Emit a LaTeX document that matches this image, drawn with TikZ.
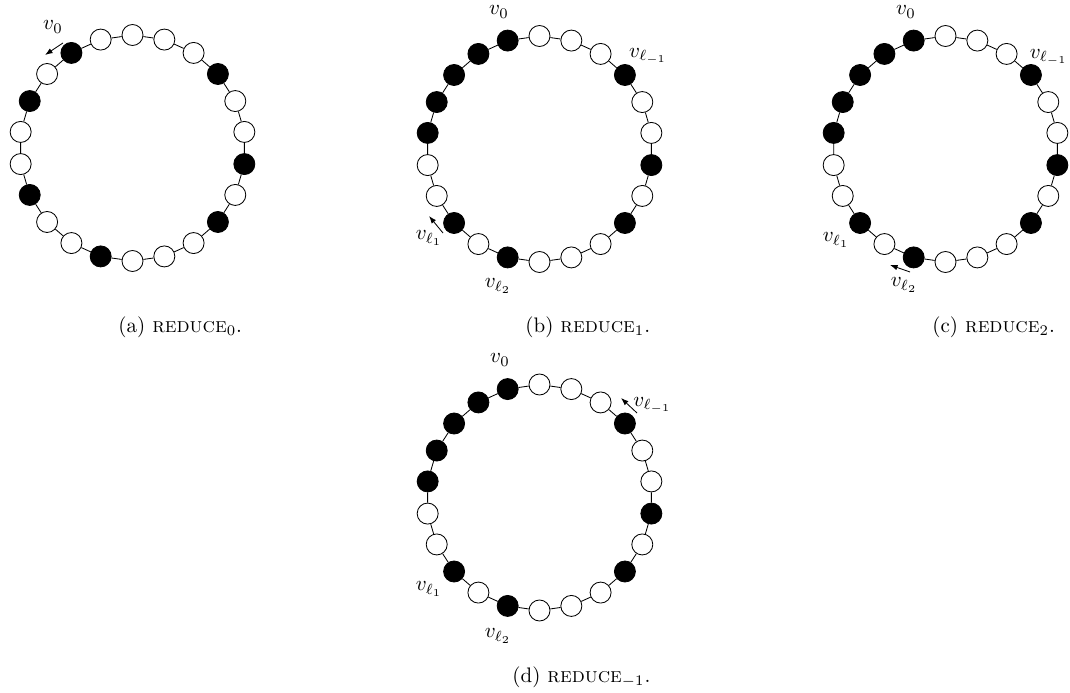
\documentclass[tikz,border=0pt]{standalone}
\usetikzlibrary{arrows.meta,calc}
\tikzset{
  vtx/.style={circle,draw,line width=0.4pt,minimum size=10pt,inner sep=0pt},
  lbl/.style={inner sep=0pt},
  captxt/.style={inner sep=0pt,anchor=west},
  ringedge/.style={line width=0.4pt},
  pointer/.style={line width=0.4pt,-{Latex[length=3.6pt,width=2.6pt]}}
}
\newcommand{\ringdraw}[4]{%
  \foreach \c [count=\k from 0] in {#4} {
    \node[vtx,fill=\c] (#1\k) at ({#2+113*cos(90-\k*360/22)},{#3-113*sin(90-\k*360/22)}) {};
  }
  \foreach \k in {0,...,21} {
    \pgfmathtruncatemacro\nxt{mod(\k+1,22)}
    \draw[ringedge] (#1\k) -- (#1\nxt);
  }
}
\begin{document}
\begin{tikzpicture}[x=0.476pt,y=-0.476pt]
\useasboundingbox (0,0) rectangle (1070,693);
% (a)
\ringdraw{a}{132.5}{148}{white,white,white,black,white,white,black,white,black,white,white,white,black,white,white,black,white,white,black,white,black,white}
% (b)
\ringdraw{b}{539.5}{149}{white,white,white,black,white,white,black,white,black,white,white,white,black,white,black,white,white,black,black,black,black,black}
% (c)
\ringdraw{c}{945.5}{149}{white,white,white,black,white,white,black,white,black,white,white,white,black,white,black,white,white,black,black,black,black,black}
% (d)
\ringdraw{d}{539.5}{497.5}{white,white,white,black,white,white,black,white,black,white,white,white,black,white,black,white,white,black,black,black,black,black}

% labels (a)
\node[lbl] (la0) at (53,27) {$v_0$};
\coordinate (pa1) at (63,43);
\coordinate (pa2) at (45,55);
\draw[pointer] (pa1) -- (pa2);
% labels (b)
\node[lbl] (lb0) at (499,12) {$v_0$};
\node[lbl] (lbm) at (648,56) {$v_{\ell_{-1}}$};
\node[lbl] (lb1) at (429,238) {$v_{\ell_1}$};
\node[lbl] (lb2) at (498,286) {$v_{\ell_2}$};
\coordinate (pb1) at (443,233);
\coordinate (pb2) at (429,216);
\draw[pointer] (pb1) -- (pb2);
% labels (c)
\node[lbl] (lc0) at (906,12) {$v_0$};
\node[lbl,anchor=east] (lcm) at (1068,57) {$v_{\ell_{-1}}$};
\node[lbl] (lc1) at (836,240) {$v_{\ell_1}$};
\node[lbl] (lc2) at (904,285) {$v_{\ell_2}$};
\coordinate (pc1) at (910,272);
\coordinate (pc2) at (890,265);
\draw[pointer] (pc1) -- (pc2);
% labels (d)
\node[lbl] (ld0) at (500,360) {$v_0$};
\node[lbl,anchor=west] (ldm) at (633,405) {$v_{\ell_{-1}}$};
\node[lbl] (ld1) at (429,589) {$v_{\ell_1}$};
\node[lbl] (ld2) at (498,636) {$v_{\ell_2}$};
\coordinate (pd1) at (637,413);
\coordinate (pd2) at (621,398);
\draw[pointer] (pd1) -- (pd2);

% captions
\node[captxt] (capa) at (118,327) {(a) \textsc{reduce}$_0$.};
\node[captxt] (capb) at (525,327) {(b) \textsc{reduce}$_1$.};
\node[captxt] (capc) at (932,327) {(c) \textsc{reduce}$_2$.};
\node[captxt] (capd) at (512,677) {(d) \textsc{reduce}$_{-1}$.};
\end{tikzpicture}
\end{document}
